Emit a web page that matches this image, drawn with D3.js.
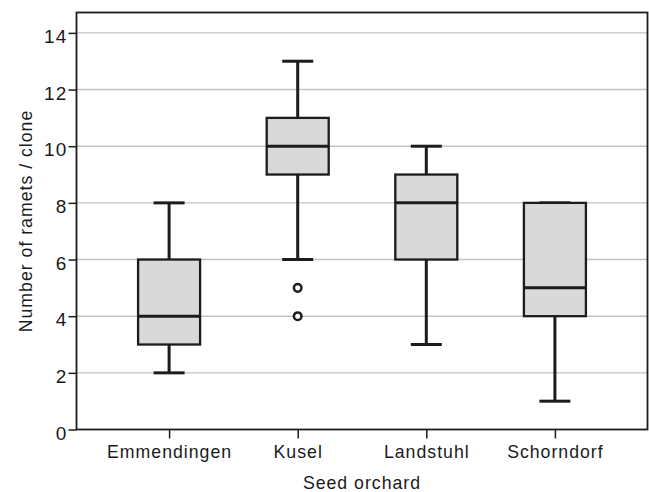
<!DOCTYPE html>
<html>
<head>
<meta charset="utf-8">
<title>Ramets per clone by seed orchard</title>
<script src="https://cdn.jsdelivr.net/npm/d3@7"></script>
<style>
  body { margin: 0; background: #fff; }
  text { font-family: "Liberation Sans", Arial, sans-serif; font-size: 17.7px; letter-spacing: 1px; fill: #1a1a1a; }
</style>
</head>
<body>
<div id="chart"></div>
<script>
// data
var orchards = ["Emmendingen", "Kusel", "Landstuhl", "Schorndorf"];
var whiskerLow  = [2, 6, 3, 1];
var quart1      = [3, 9, 6, 4];
var medians     = [4, 10, 8, 5];
var quart3      = [6, 11, 9, 8];
var whiskerHigh = [8, 13, 10, 8];
var outliers    = [[], [5, 4], [], []];
var yTicks      = [0, 2, 4, 6, 8, 10, 12, 14];

var W = 649, H = 492;
// plot edges (note: "top" is taken by window.top)
var pLeft = 76.5, pRight = 647.5, pTop = 12.5, pBottom = 429.5;
var ink = "#1c1c1c";

var svg = d3.select("#chart").append("svg")
  .attr("width", W)
  .attr("height", H);

var x = d3.scalePoint().domain(orchards).range([pLeft, pRight]).padding(0.72);
var y = d3.scaleLinear().domain([0, 14.72]).range([pBottom, pTop]);

// grid lines
svg.append("g").selectAll("line")
  .data(yTicks.filter(function(d) { return d > 0; }))
  .enter().append("line")
  .attr("x1", pLeft).attr("x2", pRight)
  .attr("y1", function(d) { return y(d); })
  .attr("y2", function(d) { return y(d); })
  .attr("stroke", "#c2c2c2")
  .attr("stroke-width", 1.4);

// boxes, one group per orchard
var boxW = 62, capW = 31;
var groups = svg.append("g").selectAll("g")
  .data(orchards)
  .enter().append("g");

// whiskers
groups.append("line")
  .attr("x1", function(d) { return x(d); })
  .attr("x2", function(d) { return x(d); })
  .attr("y1", function(d, i) { return y(whiskerHigh[i]); })
  .attr("y2", function(d, i) { return y(quart3[i]); })
  .attr("stroke", ink).attr("stroke-width", 3);
groups.append("line")
  .attr("x1", function(d) { return x(d); })
  .attr("x2", function(d) { return x(d); })
  .attr("y1", function(d, i) { return y(whiskerLow[i]); })
  .attr("y2", function(d, i) { return y(quart1[i]); })
  .attr("stroke", ink).attr("stroke-width", 3);
// caps
groups.append("line")
  .attr("x1", function(d) { return x(d) - capW / 2; })
  .attr("x2", function(d) { return x(d) + capW / 2; })
  .attr("y1", function(d, i) { return y(whiskerHigh[i]); })
  .attr("y2", function(d, i) { return y(whiskerHigh[i]); })
  .attr("stroke", ink).attr("stroke-width", 3);
groups.append("line")
  .attr("x1", function(d) { return x(d) - capW / 2; })
  .attr("x2", function(d) { return x(d) + capW / 2; })
  .attr("y1", function(d, i) { return y(whiskerLow[i]); })
  .attr("y2", function(d, i) { return y(whiskerLow[i]); })
  .attr("stroke", ink).attr("stroke-width", 3);

// the box
groups.append("rect")
  .attr("x", function(d) { return x(d) - boxW / 2; })
  .attr("width", boxW)
  .attr("y", function(d, i) { return y(quart3[i]); })
  .attr("height", function(d, i) { return y(quart1[i]) - y(quart3[i]); })
  .attr("fill", "#d9d9d9")
  .attr("stroke", ink).attr("stroke-width", 2.3);

// median
groups.append("line")
  .attr("x1", function(d) { return x(d) - boxW / 2; })
  .attr("x2", function(d) { return x(d) + boxW / 2; })
  .attr("y1", function(d, i) { return y(medians[i]); })
  .attr("y2", function(d, i) { return y(medians[i]); })
  .attr("stroke", ink).attr("stroke-width", 3);

// outlier circles
groups.each(function(d, i) {
  d3.select(this).selectAll("circle")
    .data(outliers[i])
    .enter().append("circle")
    .attr("cx", x(d))
    .attr("cy", function(v) { return y(v); })
    .attr("r", 3.8)
    .attr("fill", "#fff")
    .attr("stroke", ink).attr("stroke-width", 2.5);
});

// axes
var yAxis = svg.append("g")
  .attr("transform", "translate(" + pLeft + ",0)")
  .call(d3.axisLeft(y).tickValues(yTicks).tickSize(8).tickPadding(1.3));
yAxis.selectAll("text")
  .attr("dy", "0.5em")
  .style("font-size", "19px");

var xAxis = svg.append("g")
  .attr("transform", "translate(0," + pBottom + ")")
  .call(d3.axisBottom(x).tickSize(9).tickPadding(7));
xAxis.selectAll("text").style("font-size", "17.7px");

svg.selectAll(".domain").remove();
svg.selectAll(".tick line").attr("stroke", ink).attr("stroke-width", 1.5);
svg.selectAll(".tick text").attr("fill", "#1a1a1a")
  .style("font-family", "'Liberation Sans', Arial, sans-serif");

// frame
svg.append("rect")
  .attr("x", pLeft).attr("y", pTop)
  .attr("width", pRight - pLeft).attr("height", pBottom - pTop)
  .attr("fill", "none")
  .attr("stroke", ink).attr("stroke-width", 1.8);

// axis titles
svg.append("text")
  .attr("x", (pLeft + pRight) / 2)
  .attr("y", 489)
  .attr("text-anchor", "middle")
  .text("Seed orchard");

svg.append("text")
  .attr("transform", "translate(31.5," + ((pTop + pBottom) / 2) + ") rotate(-90)")
  .attr("text-anchor", "middle")
  .text("Number of ramets / clone");
</script>
</body>
</html>
